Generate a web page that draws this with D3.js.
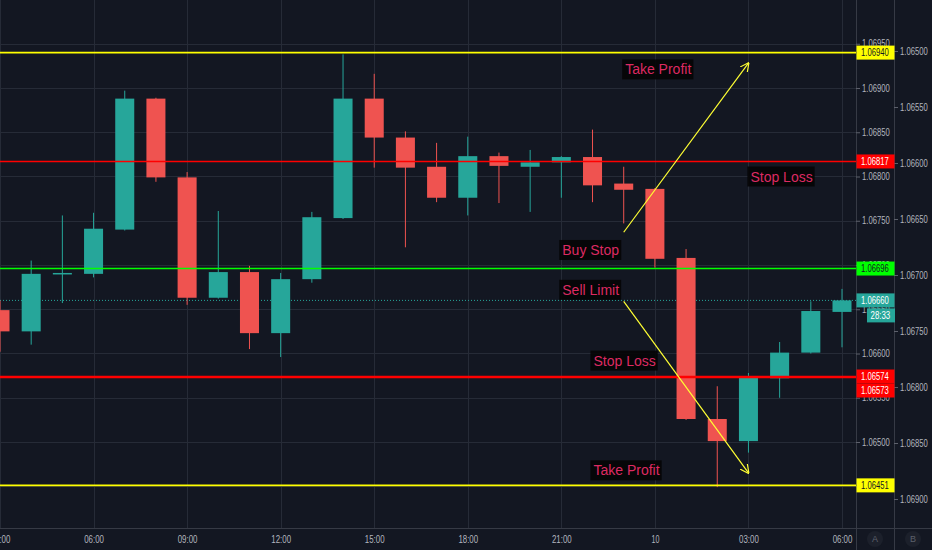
<!DOCTYPE html>
<html>
<head>
<meta charset="utf-8">
<script src="https://cdnjs.cloudflare.com/ajax/libs/d3/7.8.5/d3.min.js"></script>
<style>
  html, body { margin: 0; padding: 0; background: #131722; overflow: hidden; }
  svg { display: block; font-family: "Liberation Sans", Arial, sans-serif; }
</style>
</head>
<body>
<svg id="chart"></svg>
<script>
// hourly EURUSD-style candles, 9th 03:00 -> 10th 06:00
var times = [
  '2020-03-09T03:00Z', '2020-03-09T04:00Z', '2020-03-09T05:00Z', '2020-03-09T06:00Z',
  '2020-03-09T07:00Z', '2020-03-09T08:00Z', '2020-03-09T09:00Z', '2020-03-09T10:00Z',
  '2020-03-09T11:00Z', '2020-03-09T12:00Z', '2020-03-09T13:00Z', '2020-03-09T14:00Z',
  '2020-03-09T15:00Z', '2020-03-09T16:00Z', '2020-03-09T17:00Z', '2020-03-09T18:00Z',
  '2020-03-09T19:00Z', '2020-03-09T20:00Z', '2020-03-09T21:00Z', '2020-03-09T22:00Z',
  '2020-03-09T23:00Z', '2020-03-10T00:00Z', '2020-03-10T01:00Z', '2020-03-10T02:00Z',
  '2020-03-10T03:00Z', '2020-03-10T04:00Z', '2020-03-10T05:00Z', '2020-03-10T06:00Z'
];
var opens  = [1.06649, 1.06625, 1.06690, 1.06690, 1.06740, 1.06888, 1.06799, 1.06663,
              1.06692, 1.06623, 1.06684, 1.06753, 1.06888, 1.06844, 1.06811, 1.06776,
              1.06823, 1.06811, 1.06816, 1.06822, 1.06792, 1.06786, 1.06708, 1.06526,
              1.06501, 1.06572, 1.06601, 1.06647];
var highs  = [1.06660, 1.06705, 1.06756, 1.06759, 1.06897, 1.06889, 1.06805, 1.06761,
              1.06699, 1.06691, 1.06760, 1.06938, 1.06916, 1.06851, 1.06838, 1.06845,
              1.06827, 1.06830, 1.06823, 1.06853, 1.06811, 1.06787, 1.06718, 1.06563,
              1.06578, 1.06613, 1.06659, 1.06673];
var lows   = [1.06602, 1.06610, 1.06657, 1.06686, 1.06739, 1.06794, 1.06655, 1.06662,
              1.06605, 1.06596, 1.06680, 1.06752, 1.06810, 1.06720, 1.06771, 1.06756,
              1.06770, 1.06760, 1.06776, 1.06771, 1.06747, 1.06697, 1.06525, 1.06449,
              1.06488, 1.06550, 1.06600, 1.06607];
var closes = [1.06625, 1.06690, 1.06691, 1.06741, 1.06888, 1.06799, 1.06663, 1.06692,
              1.06623, 1.06684, 1.06754, 1.06888, 1.06844, 1.06810, 1.06776, 1.06823,
              1.06812, 1.06816, 1.06822, 1.06790, 1.06785, 1.06707, 1.06526, 1.06501,
              1.06573, 1.06601, 1.06648, 1.06660];

var lastPrice = 1.06660;
var countdown = '28:33';

var levelPrices = [1.06940, 1.06817, 1.06696, 1.06574, 1.06573, 1.06451];
var levelKinds  = ['target', 'stop', 'entry', 'stop', 'stop', 'target'];

var priceTicks = [1.0645, 1.0650, 1.0655, 1.0660, 1.0665, 1.0670, 1.0675, 1.0680, 1.0685, 1.0690, 1.0695];
var mirrorTicks = [1.0650, 1.0655, 1.0660, 1.0665, 1.0670, 1.0675, 1.0680, 1.0685, 1.0690];

var noteTexts  = ['Take Profit', 'Stop Loss', 'Buy Stop', 'Sell Limit', 'Stop Loss', 'Take Profit'];
var noteTimes  = ['2020-03-09T22:57Z', '2020-03-10T02:58Z', '2020-03-09T20:56Z',
                  '2020-03-09T20:56Z', '2020-03-09T21:56Z', '2020-03-09T21:56Z'];
var notePrices = [1.06921, 1.06800, 1.06717, 1.06672, 1.06592, 1.06468];

var arrowFrom = [['2020-03-09T23:00Z', 1.06737], ['2020-03-09T23:00Z', 1.06659]];
var arrowTo   = [['2020-03-10T03:00Z', 1.06928], ['2020-03-10T03:00Z', 1.06465]];

(function () {
  'use strict';

  var W = 932, H = 550;
  var plotW = 856, plotH = 528, axis2 = 894;
  var up = '#26a69a', down = '#ef5350', grid = '#262b37', sep = '#363a45', txt = '#b2b5be';
  var kindStyle = {
    target: { line: '#ffff00', box: '#ffff00', text: '#131722' },
    stop:   { line: '#ff0000', box: '#ff0000', text: '#ffffff' },
    entry:  { line: '#00ff00', box: '#00ff00', text: '#131722' }
  };

  // the chart uses a condensed face: squeeze Liberation Sans to its width
  function condense(sel) {
    sel.attr('font-size', 10)
      .attr('font-family', '"Liberation Sans", Arial, sans-serif')
      .attr('lengthAdjust', 'spacingAndGlyphs')
      .attr('textLength', function () { return this.textContent.length * 3.95; });
  }

  var parse = function (s) { return new Date(s); };
  var candles = times.map(function (t, i) {
    return { t: parse(t), o: opens[i], h: highs[i], l: lows[i], c: closes[i] };
  });

  var x = d3.scaleUtc()
    .domain([parse(times[0]), parse(times[times.length - 1])])
    .range([0, 842]);
  var y = d3.scaleLinear().domain([1.065, 1.069]).range([442, 88]);
  var y2 = d3.scaleLinear().domain([1.065, 1.069]).range([51, 499]);
  var step = x(parse(times[1])) - x(parse(times[0]));
  var bw = step * 0.61;

  var svg = d3.select('#chart').attr('width', W).attr('height', H);
  svg.append('rect').attr('width', W).attr('height', H).attr('fill', '#131722');

  svg.append('defs').append('clipPath').attr('id', 'plot')
    .append('rect').attr('width', plotW).attr('height', plotH);

  var plot = svg.append('g').attr('clip-path', 'url(#plot)');

  // grid
  var timeTicks = x.ticks(d3.utcHour.every(3));
  plot.append('g').selectAll('line')
    .data(timeTicks)
    .enter().append('line')
    .attr('x1', function (d) { return Math.round(x(d)) + 0.5; })
    .attr('x2', function (d) { return Math.round(x(d)) + 0.5; })
    .attr('y1', 0).attr('y2', plotH)
    .attr('stroke', grid);
  plot.append('g').selectAll('line')
    .data(priceTicks)
    .enter().append('line')
    .attr('x1', 0).attr('x2', plotW)
    .attr('y1', function (d) { return Math.round(y(d)) + 0.5; })
    .attr('y2', function (d) { return Math.round(y(d)) + 0.5; })
    .attr('stroke', grid);

  // current price dotted line
  plot.append('line')
    .attr('x1', 0).attr('x2', plotW)
    .attr('y1', y(lastPrice)).attr('y2', y(lastPrice))
    .attr('stroke', up).attr('stroke-width', 1)
    .attr('stroke-dasharray', '1,2');

  // candles
  var cg = plot.append('g').selectAll('g')
    .data(candles)
    .enter().append('g');
  cg.append('line')
    .attr('x1', function (d) { return x(d.t); })
    .attr('x2', function (d) { return x(d.t); })
    .attr('y1', function (d) { return y(d.h); })
    .attr('y2', function (d) { return y(d.l); })
    .attr('stroke', function (d) { return d.c >= d.o ? up : down; })
    .attr('stroke-width', 1);
  cg.append('rect')
    .attr('x', function (d) { return x(d.t) - bw / 2; })
    .attr('width', bw)
    .attr('y', function (d) { return y(Math.max(d.o, d.c)); })
    .attr('height', function (d) { return Math.max(1.5, Math.abs(y(d.o) - y(d.c))); })
    .attr('fill', function (d) { return d.c >= d.o ? up : down; });

  // order levels
  plot.append('g').selectAll('line')
    .data(levelPrices)
    .enter().append('line')
    .attr('x1', 0).attr('x2', plotW)
    .attr('y1', function (d) { return y(d); })
    .attr('y2', function (d) { return y(d); })
    .attr('stroke', function (d, i) { return kindStyle[levelKinds[i]].line; })
    .attr('stroke-width', 1.6);

  // arrows
  var defs = svg.select('defs');
  defs.append('marker').attr('id', 'head')
    .attr('viewBox', '0 0 10 10').attr('refX', 9).attr('refY', 5)
    .attr('markerWidth', 9).attr('markerHeight', 9).attr('orient', 'auto')
    .attr('markerUnits', 'userSpaceOnUse')
    .append('path').attr('d', 'M0,0L10,5L0,10')
    .attr('fill', 'none').attr('stroke', '#ffff33').attr('stroke-width', 1.3);
  plot.append('g').selectAll('line')
    .data(arrowFrom)
    .enter().append('line')
    .attr('x1', function (d) { return x(parse(d[0])); })
    .attr('y1', function (d) { return y(d[1]); })
    .attr('x2', function (d, i) { return x(parse(arrowTo[i][0])); })
    .attr('y2', function (d, i) { return y(arrowTo[i][1]); })
    .attr('stroke', '#ffff33').attr('stroke-width', 1.2)
    .attr('marker-end', 'url(#head)');

  // text notes
  var notes = plot.append('g').selectAll('g')
    .data(noteTexts)
    .enter().append('g')
    .attr('transform', function (d, i) {
      return 'translate(' + x(parse(noteTimes[i])) + ',' + y(notePrices[i]) + ')';
    });
  notes.append('rect').attr('fill', '#050507').attr('fill-opacity', 0.92);
  notes.append('text')
    .attr('x', 3).attr('dy', '0.36em')
    .attr('font-size', 14).attr('fill', '#dd2a62')
    .text(function (d) { return d; });
  notes.each(function () {
    var g = d3.select(this);
    var bb = g.select('text').node().getBBox();
    g.select('rect').attr('x', 0).attr('y', -10).attr('width', bb.width + 5).attr('height', 20);
  });

  // separators and bottom axis line
  svg.append('line').attr('x1', plotW + 0.5).attr('x2', plotW + 0.5).attr('y1', 0).attr('y2', H).attr('stroke', sep);
  svg.append('line').attr('x1', axis2 + 0.5).attr('x2', axis2 + 0.5).attr('y1', 0).attr('y2', H).attr('stroke', sep);
  svg.append('line').attr('x1', 0).attr('x2', W).attr('y1', plotH + 0.5).attr('y2', plotH + 0.5).attr('stroke', sep);

  function styleAxis(g) {
    g.select('.domain').remove();
    g.selectAll('line').attr('stroke', '#5d606b');
    g.selectAll('text').attr('fill', txt).call(condense);
  }

  // price axes
  svg.append('g').attr('transform', 'translate(' + plotW + ',0)')
    .call(d3.axisRight(y).tickValues(priceTicks).tickFormat(d3.format('.5f')).tickSize(4).tickPadding(2))
    .call(styleAxis);
  svg.append('g').attr('transform', 'translate(' + axis2 + ',0)')
    .call(d3.axisRight(y2).tickValues(mirrorTicks).tickFormat(d3.format('.5f')).tickSize(4).tickPadding(2))
    .call(styleAxis);

  // time axis
  var timeFmt = function (d) {
    return d.getUTCHours() === 0 ? d3.utcFormat('%-d')(d) : d3.utcFormat('%H:%M')(d);
  };
  svg.append('g').attr('transform', 'translate(0,' + plotH + ')')
    .call(d3.axisBottom(x).tickValues(timeTicks).tickFormat(timeFmt).tickSize(0).tickPadding(8))
    .call(styleAxis);

  // level labels on the price axis
  var labels = levelPrices.map(function (p, i) {
    var s = kindStyle[levelKinds[i]];
    return { p: p, y: y(p), box: s.box, text: s.text };
  });
  labels.push({ p: lastPrice, y: y(lastPrice), box: up, text: '#ffffff' });
  labels.sort(function (a, b) { return a.y - b.y; });
  var boxH = 14;
  labels.forEach(function (d, i) {
    if (i > 0 && d.y - labels[i - 1].y < boxH) d.y = labels[i - 1].y + boxH;
  });
  var lg = svg.append('g').selectAll('g')
    .data(labels)
    .enter().append('g')
    .attr('transform', function (d) { return 'translate(' + plotW + ',' + d.y + ')'; });
  lg.append('rect')
    .attr('x', 0.5).attr('y', -boxH / 2).attr('width', axis2 - plotW).attr('height', boxH)
    .attr('fill', function (d) { return d.box; });
  lg.append('text')
    .attr('x', 5).attr('dy', '0.36em')
    .attr('fill', function (d) { return d.text; })
    .text(function (d) { return d3.format('.5f')(d.p); })
    .call(condense);

  // countdown under the last price
  var cd = svg.append('g')
    .attr('transform', 'translate(' + (plotW + 11) + ',' + (y(lastPrice) + boxH) + ')');
  cd.append('rect').attr('x', 0).attr('y', -boxH / 2 + 1).attr('width', axis2 - plotW - 10).attr('height', boxH)
    .attr('fill', up);
  cd.append('text').attr('x', 3.5).attr('dy', '0.45em')
    .attr('fill', '#ffffff').text(countdown)
    .call(condense);

  // scale mode buttons
  var btn = svg.append('g').selectAll('g')
    .data(['A', 'B'])
    .enter().append('g')
    .attr('transform', function (d, i) { return 'translate(' + (875 + i * 38) + ',539)'; });
  btn.append('circle').attr('r', 8).attr('fill', '#1c202b');
  btn.append('text').attr('text-anchor', 'middle').attr('dy', '0.36em')
    .attr('font-size', 9).attr('fill', '#5d606b')
    .text(function (d) { return d; });
})();
</script>
</body>
</html>
